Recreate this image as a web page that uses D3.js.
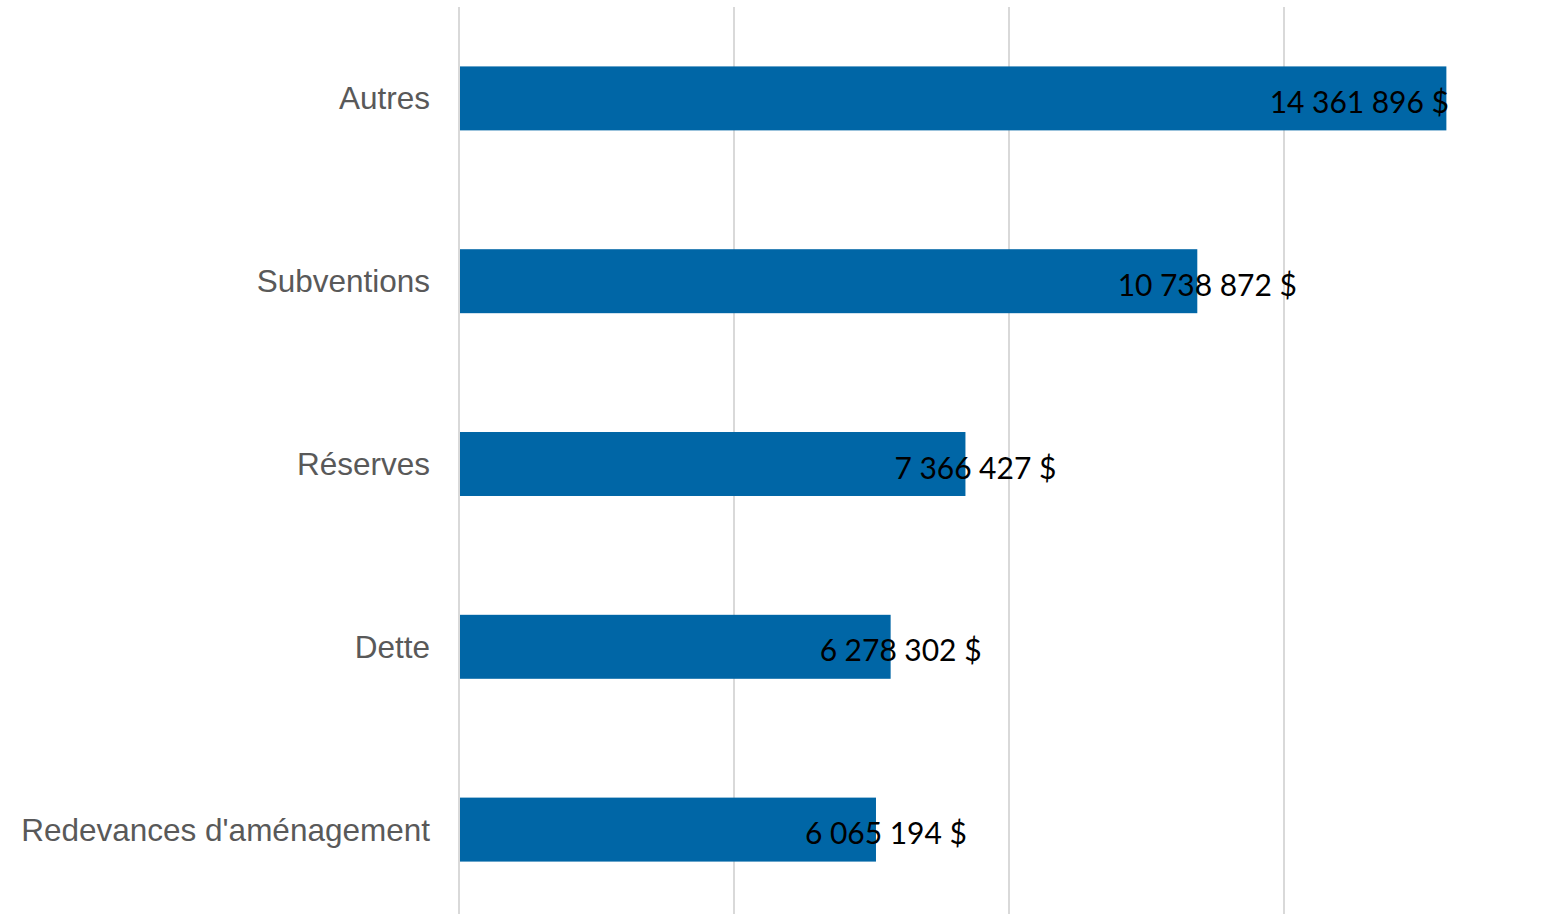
<!DOCTYPE html>
<html><head><meta charset="utf-8">
<script src="https://cdn.jsdelivr.net/npm/d3@7"></script>
<style>body{margin:0;background:#fff}svg{display:block}</style>
</head><body>
<svg id="c" width="1545" height="914"></svg>
<script>
const categories = ["Autres","Subventions","Réserves","Dette","Redevances d'aménagement"];
const values = [14361896, 10738872, 7366427, 6278302, 6065194];
const gridTicks = [0, 4000000, 8000000, 12000000];

const svg = d3.select("#c");
const x = d3.scaleLinear().domain([0, 16000000]).range([459, 1559]);
const y = d3.scaleBand().domain(categories).range([7, 921]).paddingInner(0.65).paddingOuter(0.325);

svg.append("g").selectAll("line").data(gridTicks).join("line")
  .attr("x1", d => x(d)).attr("x2", d => x(d))
  .attr("y1", 7).attr("y2", 914)
  .attr("stroke", "#d9d9d9").attr("stroke-width", 2);

svg.append("g").selectAll("rect").data(values).join("rect")
  .attr("x", x(0) + 1)
  .attr("y", (d, i) => y(categories[i]))
  .attr("width", d => x(d) - x(0) - 1)
  .attr("height", y.bandwidth())
  .attr("fill", "#0066a6");

svg.append("g").selectAll("text").data(categories).join("text")
  .attr("x", 430)
  .attr("y", d => y(d) + y.bandwidth() / 2)
  .attr("dy", "0.35em")
  .attr("text-anchor", "end")
  .attr("font-family", "Liberation Sans, Arial, sans-serif")
  .attr("font-size", 31.5)
  .attr("fill", "#595959")
  .text(d => d);

const fmt = v => d3.format(",")(v).replace(/,/g, "\u202f") + " $";
const right = 1449;
svg.append("g").selectAll("text").data(values).join("text")
  .each(function(d, i) {
    const t = d3.select(this)
      .attr("y", y(categories[i]) + y.bandwidth() / 2 + 4)
      .attr("dy", "0.35em")
      .attr("font-family", "Lato, sans-serif")
      .attr("font-size", 30)
      .attr("fill", "#000")
      .text(fmt(d));
    const w = this.getComputedTextLength();
    const cx = Math.min(x(d) + 10, right - w / 2);
    t.attr("x", cx).attr("text-anchor", "middle");
  });
</script>
</body></html>
